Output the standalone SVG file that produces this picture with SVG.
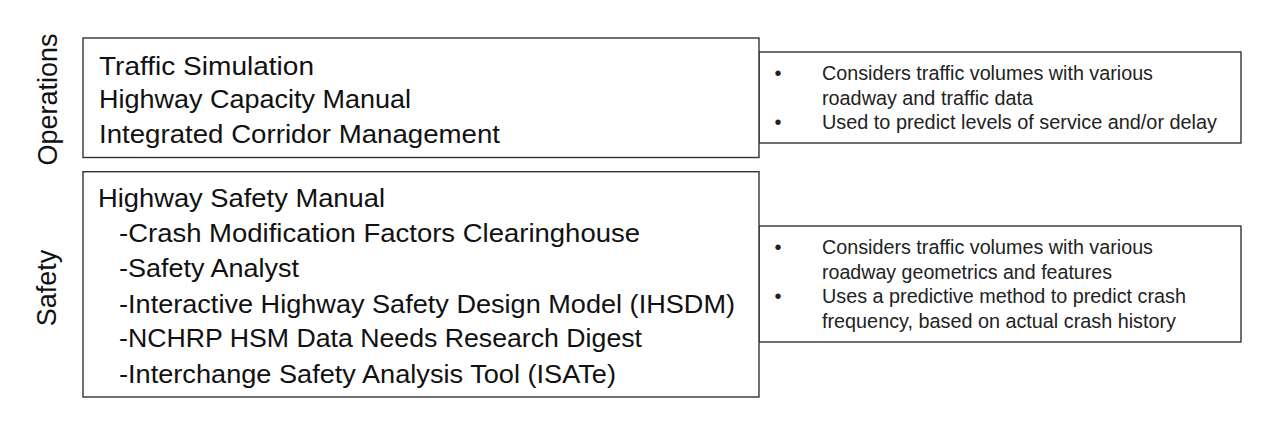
<svg xmlns="http://www.w3.org/2000/svg" width="1280" height="432" viewBox="0 0 1280 432">
<style>
.box{fill:#fff;stroke:#333;stroke-width:1.4}
.lt{font-family:"Liberation Sans",Arial,sans-serif;font-size:26.5px;fill:#111}
.rt{font-family:"Liberation Sans",Arial,sans-serif;font-size:20.5px;fill:#222}
.bul{font-family:"Liberation Sans",Arial,sans-serif;font-size:20px;fill:#222;text-anchor:middle}
.lab{font-family:"Liberation Sans",Arial,sans-serif;font-size:27px;fill:#111;text-anchor:middle}
</style>
<rect width="1280" height="432" fill="#fff"/>
<g id="label-operations"><text class="lab" transform="translate(56.7 99.5) rotate(-90)">Operations</text></g>
<g id="label-safety"><text class="lab" transform="translate(56 288) rotate(-90)">Safety</text></g>
<g id="ops-desc">
<rect class="box" x="759" y="52" width="482" height="91"/>
<text class="bul" x="778" y="80">•</text>
<text class="rt" x="822" y="80" textLength="331" lengthAdjust="spacingAndGlyphs">Considers traffic volumes with various</text>
<text class="rt" x="822" y="104.5" textLength="211" lengthAdjust="spacingAndGlyphs">roadway and traffic data</text>
<text class="bul" x="778" y="129">•</text>
<text class="rt" x="822" y="129" textLength="395" lengthAdjust="spacingAndGlyphs">Used to predict levels of service and/or delay</text>
</g>
<g id="safety-desc">
<rect class="box" x="759" y="226" width="482" height="116"/>
<text class="bul" x="778" y="254">•</text>
<text class="rt" x="822" y="254" textLength="331" lengthAdjust="spacingAndGlyphs">Considers traffic volumes with various</text>
<text class="rt" x="822" y="278.5" textLength="290" lengthAdjust="spacingAndGlyphs">roadway geometrics and features</text>
<text class="bul" x="778" y="303">•</text>
<text class="rt" x="822" y="303" textLength="364" lengthAdjust="spacingAndGlyphs">Uses a predictive method to predict crash</text>
<text class="rt" x="822" y="328" textLength="354" lengthAdjust="spacingAndGlyphs">frequency, based on actual crash history</text>
</g>
<g id="operations">
<rect class="box" x="83" y="38" width="676" height="119.5"/>
<text class="lt" x="99" y="74.5" textLength="215" lengthAdjust="spacingAndGlyphs">Traffic Simulation</text>
<text class="lt" x="99" y="108" textLength="312" lengthAdjust="spacingAndGlyphs">Highway Capacity Manual</text>
<text class="lt" x="99" y="143" textLength="401" lengthAdjust="spacingAndGlyphs">Integrated Corridor Management</text>
</g>
<g id="safety">
<rect class="box" x="83" y="171.7" width="676" height="225.3"/>
<text class="lt" x="98" y="206.7" textLength="287" lengthAdjust="spacingAndGlyphs">Highway Safety Manual</text>
<text class="lt" x="119" y="241.7" textLength="521" lengthAdjust="spacingAndGlyphs">-Crash Modification Factors Clearinghouse</text>
<text class="lt" x="119" y="276.7" textLength="180" lengthAdjust="spacingAndGlyphs">-Safety Analyst</text>
<text class="lt" x="119" y="313" textLength="616" lengthAdjust="spacingAndGlyphs">-Interactive Highway Safety Design Model (IHSDM)</text>
<text class="lt" x="119" y="347.4" textLength="523" lengthAdjust="spacingAndGlyphs">-NCHRP HSM Data Needs Research Digest</text>
<text class="lt" x="119" y="382.7" textLength="497" lengthAdjust="spacingAndGlyphs">-Interchange Safety Analysis Tool (ISATe)</text>
</g>
<g id="connectors"/>
</svg>
